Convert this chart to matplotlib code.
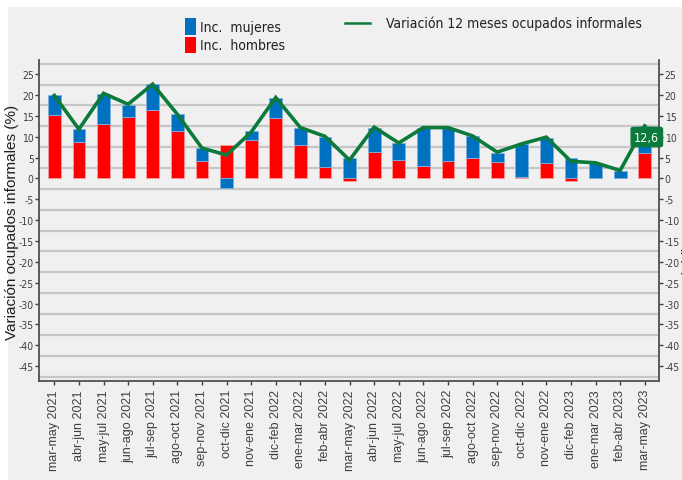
import matplotlib
matplotlib.use("Agg")
import matplotlib.pyplot as plt
import numpy as np
from matplotlib.patches import Rectangle
from matplotlib.lines import Line2D
from matplotlib import font_manager as fm

categories = ["mar-may 2021", "abr-jun 2021", "may-jul 2021", "jun-ago 2021", "jul-sep 2021",
              "ago-oct 2021", "sep-nov 2021", "oct-dic 2021", "nov-ene 2021", "dic-feb 2022",
              "ene-mar 2022", "feb-abr 2022", "mar-may 2022", "abr-jun 2022", "may-jul 2022",
              "jun-ago 2022", "jul-sep 2022", "ago-oct 2022", "sep-nov 2022", "oct-dic 2022",
              "nov-ene 2022", "dic-feb 2023", "ene-mar 2023", "feb-abr 2023", "mar-may 2023"]
inc_hombres = [15.3, 8.85, 13.1, 14.7, 16.3, 11.3, 4.07, 8.05, 9.1, 14.6, 8.05, 2.7, -0.7,
               6.3, 4.4, 2.95, 4.07, 4.8, 3.9, 0.4, 3.8, -0.65, 0.2, 0.0, 6.0]
inc_mujeres = [4.6, 2.95, 7.2, 3.0, 6.3, 4.2, 3.2, -2.4, 2.2, 4.7, 4.15, 7.35, 5.0,
               5.9, 4.1, 9.2, 8.1, 5.4, 2.3, 7.9, 6.0, 4.9, 3.55, 1.9, 6.6]
variacion = [19.9, 11.8, 20.4, 17.8, 22.6, 15.4, 7.3, 5.6, 11.1, 19.4, 12.2, 10.1, 4.4,
             12.3, 8.5, 12.2, 12.2, 10.2, 6.3, 8.3, 9.9, 4.1, 3.75, 1.9, 12.6]
yticks = list(range(25, -50, -5))

BLUE = "#0070C0"
RED = "#FF0000"
GREEN = "#0B7A3B"
BG = "#F0F0F0"
TXT = "#404040"

names = {f.name for f in fm.fontManager.ttflist}
NARROW_PROPS = dict(family=["DejaVu Sans"], fontstretch="condensed")
if "Liberation Sans Narrow" in names:
    NARROW_PROPS = dict(family=["Liberation Sans Narrow"])
SANS = ["Liberation Sans", "DejaVu Sans"]

W, H = 682, 481
fig = plt.figure(figsize=(W / 100, H / 100), dpi=100, facecolor="white")
fig.patches.append(Rectangle((8 / W, 0), 1 - 8 / W, 1 - 8 / H, transform=fig.transFigure,
                             facecolor=BG, edgecolor="none", zorder=-10))

ax = fig.add_axes([39.3 / W, 1 - 381.7 / H, (659 - 39.3) / W, (381.7 - 61) / H])
ax.set_facecolor(BG)

x = np.arange(len(categories))
h = np.array(inc_hombres)
m = np.array(inc_mujeres)
bottom_m = np.where((h > 0) & (m > 0), h, np.where((h < 0) & (m < 0), h, 0.0))
bw = 0.52
ax.bar(x, h, width=bw, color=RED, edgecolor="#ff9a9a", linewidth=0.6, zorder=3)
ax.bar(x, m, width=bw, bottom=bottom_m, color=BLUE, edgecolor="#7fb0e0", linewidth=0.6, zorder=3)
ax.plot(x, variacion, color=GREEN, lw=2.6, zorder=5, solid_joinstyle="miter")

last = len(categories) - 1
ax.annotate(f"{variacion[-1]:.1f}".replace(".", ","), xy=(x[last], variacion[-1]),
            xytext=(1.5, -8), textcoords="offset points", ha="center", va="center",
            color="white", fontsize=9, zorder=7, **NARROW_PROPS,
            bbox=dict(boxstyle="round,pad=0.25,rounding_size=0.15", fc=GREEN, ec=GREEN))

ax.set_xlim(-0.61, len(categories) - 1 + 0.58)
ax.set_ylim(-48.5, 28.4)
for g in np.arange(-47.5, 28, 5):
    ax.axhline(g, color="#c6c6c6", lw=1.6, zorder=1)

ax.set_yticks(yticks)
ax.set_yticklabels([str(v) for v in yticks], fontsize=7.5, color=TXT, **NARROW_PROPS)
ax.set_xticks(x)
ax.set_xticklabels(categories, rotation=90, family=SANS, fontsize=9, color=TXT)
ax.tick_params(axis="x", length=3, width=1, color=TXT, pad=3)
ax.tick_params(axis="y", length=3, width=1, color=TXT, pad=1, labelright=True, right=True)
for s in ["left", "right", "bottom"]:
    ax.spines[s].set_color("#505050")
    ax.spines[s].set_linewidth(1.3)
ax.spines["top"].set_visible(False)

fig.text(12 / W, 1 - 222 / H, "Variación ocupados informales (%)", rotation=90,
         ha="center", va="center", fontsize=11, color="#202020", family=SANS)
fig.text(686.5 / W, 1 - 221 / H, "Incidencias (pp.)", rotation=-90,
         ha="center", va="center", fontsize=11, color="#202020", family=SANS)

# legend
fig.patches.append(Rectangle((185 / W, 1 - 36 / H), 10.5 / W, 17 / H, transform=fig.transFigure,
                             facecolor=BLUE, edgecolor="none"))
fig.patches.append(Rectangle((185 / W, 1 - 54 / H), 10.5 / W, 16 / H, transform=fig.transFigure,
                             facecolor=RED, edgecolor="none"))
fig.text(200 / W, 1 - 28 / H, "Inc.  mujeres", ha="left", va="center", fontsize=10,
         color="#202020", **NARROW_PROPS)
fig.text(200 / W, 1 - 46 / H, "Inc.  hombres", ha="left", va="center", fontsize=10,
         color="#202020", **NARROW_PROPS)
fig.lines.append(Line2D([345 / W, 370 / W], [1 - 24 / H, 1 - 24 / H], transform=fig.transFigure,
                        color=GREEN, lw=1.8))
fig.text(386 / W, 1 - 24 / H, "Variación 12 meses ocupados informales", ha="left", va="center",
         fontsize=10, color="#202020", **NARROW_PROPS)

fig.savefig("out.png", dpi=100, facecolor="white")
